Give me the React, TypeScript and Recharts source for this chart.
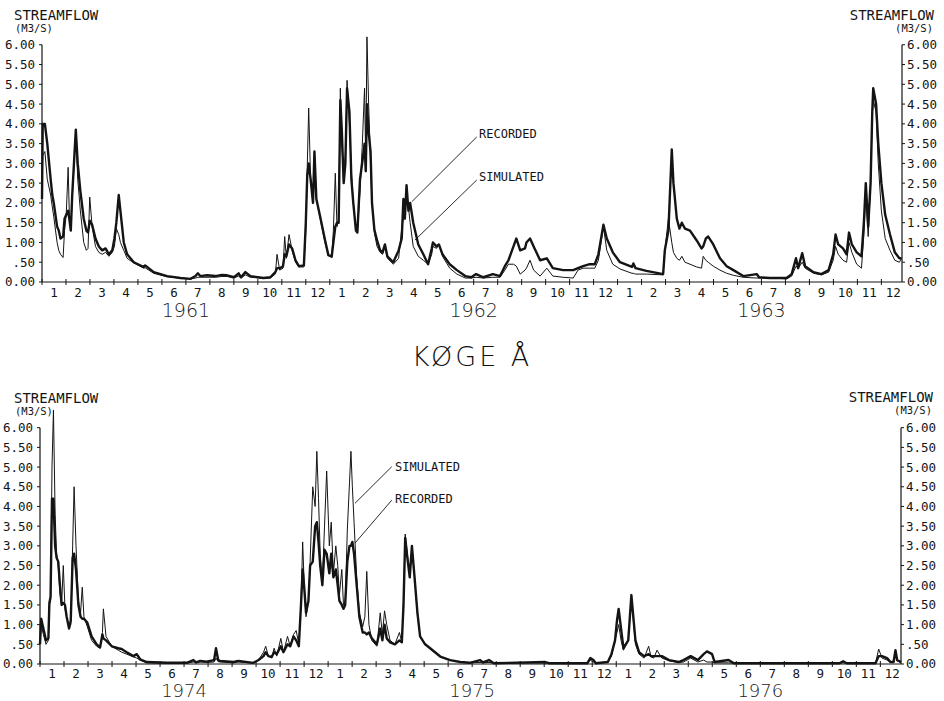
import { LineChart, Line, XAxis, YAxis, ReferenceLine } from "recharts";

// Køge Å streamflow, recorded vs simulated (m3/s). x = months from start of first year.
const topYears = ["1961", "1962", "1963"];
const topMonths = [
  0.0, 0.03, 0.12, 0.22, 0.36, 0.43, 0.49, 0.63, 0.7, 0.77,
  0.88, 0.94, 1.01, 1.09, 1.14, 1.2, 1.26, 1.36, 1.41, 1.49,
  1.6, 1.74, 1.85, 1.92, 1.99, 2.09, 2.23, 2.37, 2.51, 2.65,
  2.79, 2.93, 3.02, 3.1, 3.2, 3.27, 3.41, 3.55, 3.83, 4.24,
  4.3, 4.66, 5.22, 5.77, 6.19, 6.4, 6.5, 6.6, 6.88, 7.23,
  7.5, 7.72, 8.0, 8.2, 8.3, 8.48, 8.69, 9.24, 9.52, 9.73,
  9.8, 9.91, 10.05, 10.12, 10.19, 10.3, 10.43, 10.57, 10.71, 10.92,
  11.0, 11.06, 11.12, 11.2, 11.3, 11.36, 11.44, 11.6, 11.8, 11.94,
  12.08, 12.15, 12.23, 12.3, 12.37, 12.44, 12.5, 12.58, 12.65, 12.72,
  12.82, 12.9, 12.98, 13.09, 13.15, 13.26, 13.35, 13.45, 13.5, 13.55,
  13.62, 13.7, 13.76, 13.86, 13.97, 14.1, 14.2, 14.3, 14.4, 14.65,
  14.87, 15.0, 15.07, 15.13, 15.2, 15.28, 15.35, 15.48, 15.69, 15.9,
  16.1, 16.25, 16.3, 16.45, 16.55, 16.7, 17.0, 17.3, 17.65, 17.9,
  18.1, 18.4, 18.8, 19.1, 19.3, 19.45, 19.66, 19.78, 19.94, 20.14,
  20.2, 20.35, 20.5, 20.77, 21.05, 21.3, 21.73, 22.15, 22.35, 22.56,
  22.84, 23.05, 23.2, 23.41, 23.55, 23.8, 24.1, 24.6, 24.66, 24.75,
  25.2, 25.9, 25.97, 26.12, 26.26, 26.33, 26.47, 26.58, 26.68, 26.81,
  27.02, 27.3, 27.5, 27.57, 27.68, 27.78, 27.99, 28.27, 28.55, 28.83,
  29.24, 29.8, 29.9, 30.35, 31.05, 31.26, 31.44, 31.53, 31.7, 31.82,
  32.17, 32.5, 32.8, 32.99, 33.09, 33.2, 33.4, 33.55, 33.65, 33.77,
  33.97, 34.17, 34.27, 34.35, 34.45, 34.55, 34.62, 34.66, 34.78, 34.87,
  35.0, 35.16, 35.36, 35.56, 35.75, 35.84,
];
const topRecorded = [
  2.1, 4.0, 4.0, 3.5, 2.6, 2.2, 2.0, 1.4, 1.3, 1.1,
  1.15, 1.6, 1.7, 1.8, 1.6, 1.3, 2.2, 3.3, 3.85, 3.0,
  2.3, 1.6, 1.3, 1.25, 1.55, 1.45, 1.1, 0.9, 0.8, 0.85,
  0.7, 0.8, 1.1, 1.5, 2.2, 1.8, 1.0, 0.7, 0.5, 0.38,
  0.42, 0.25, 0.15, 0.1, 0.08, 0.15, 0.22, 0.15, 0.17, 0.15,
  0.18, 0.17, 0.12, 0.22, 0.12, 0.25, 0.15, 0.1, 0.12, 0.25,
  0.35, 0.35, 0.4, 0.7, 0.65, 0.95, 0.85, 0.55, 0.4, 0.42,
  1.5, 2.7, 3.0, 2.6, 2.0, 3.3, 2.1, 1.65, 1.06, 0.68,
  0.64, 1.0, 1.4, 1.5, 1.5, 4.6, 3.85, 2.5, 3.0, 4.9,
  4.3, 2.6, 2.0, 1.3, 1.25, 2.6, 3.0, 3.5, 2.8, 4.5,
  3.8, 3.3, 2.0, 1.32, 1.05, 0.8, 0.75, 0.95, 0.65, 0.5,
  0.8, 1.1, 2.1, 1.6, 2.45, 1.8, 2.0, 1.5, 0.95, 0.7,
  0.45, 0.85, 1.0, 0.9, 0.95, 0.7, 0.45, 0.3, 0.15, 0.12,
  0.2, 0.12, 0.2, 0.15, 0.4, 0.55, 0.9, 1.1, 0.8, 0.85,
  1.0, 1.1, 0.9, 0.55, 0.6, 0.35, 0.3, 0.3, 0.35, 0.4,
  0.45, 0.45, 0.7, 1.45, 1.1, 0.75, 0.5, 0.38, 0.47, 0.35,
  0.28, 0.2, 0.8, 1.3, 3.35, 2.5, 1.6, 1.35, 1.5, 1.35,
  1.3, 1.05, 0.85, 0.9, 1.1, 1.15, 0.95, 0.6, 0.4, 0.3,
  0.15, 0.2, 0.12, 0.1, 0.1, 0.2, 0.6, 0.35, 0.73, 0.4,
  0.25, 0.2, 0.3, 0.7, 1.2, 0.95, 0.85, 0.7, 1.25, 0.95,
  0.75, 0.65, 1.5, 2.5, 1.4, 2.5, 4.3, 4.9, 4.5, 3.5,
  2.5, 1.7, 1.2, 0.75, 0.6, 0.6,
];
const topSimulated = [
  2.3, 3.2, 3.3, 2.6, 2.2, 1.9, 1.65, 1.0, 0.8, 0.7,
  0.62, 1.3, 1.7, 2.9, 1.7, 1.3, 2.1, 3.2, 3.85, 2.6,
  1.8, 1.0, 0.8, 0.85, 2.15, 1.4, 0.9, 0.75, 0.7, 0.75,
  0.65, 0.75, 0.9, 1.35, 1.2, 1.0, 0.8, 0.6, 0.48, 0.35,
  0.36, 0.22, 0.13, 0.1, 0.08, 0.1, 0.12, 0.12, 0.12, 0.12,
  0.14, 0.14, 0.1, 0.15, 0.1, 0.18, 0.12, 0.09, 0.1, 0.2,
  0.7, 0.3, 0.35, 1.15, 0.6, 1.2, 0.8, 0.5, 0.38, 0.38,
  1.3, 2.9, 4.4, 2.6, 2.0, 3.3, 2.1, 1.6, 1.0, 0.68,
  0.64, 1.3, 2.75, 1.4, 1.6, 4.9, 3.5, 2.6, 3.2, 5.1,
  4.0, 2.8, 2.0, 1.3, 1.25, 2.3, 3.4, 4.9, 3.0, 6.2,
  4.5, 3.0, 2.0, 1.25, 0.9, 0.75, 0.7, 0.9, 0.6, 0.45,
  0.6, 1.35, 1.6, 2.0, 2.0, 1.9, 1.5, 0.9, 0.65, 0.55,
  0.45, 0.7, 0.9, 0.85, 0.95, 0.65, 0.35, 0.2, 0.1, 0.1,
  0.12, 0.1, 0.12, 0.12, 0.3, 0.45, 0.45, 0.4, 0.2, 0.3,
  0.35, 0.55, 0.3, 0.15, 0.35, 0.15, 0.12, 0.1, 0.3, 0.35,
  0.35, 0.35, 0.55, 1.4, 0.8, 0.45, 0.33, 0.22, 0.22, 0.2,
  0.2, 0.18, 0.8, 1.6, 1.0, 0.75, 0.6, 0.55, 0.65, 0.5,
  0.45, 0.38, 0.35, 0.65, 0.55, 0.5, 0.4, 0.3, 0.22, 0.17,
  0.12, 0.1, 0.1, 0.1, 0.08, 0.15, 0.4, 0.35, 0.5, 0.35,
  0.22, 0.18, 0.25, 0.55, 0.9, 0.7, 0.55, 0.5, 1.0, 0.75,
  0.45, 0.35, 1.2, 2.3, 1.15, 2.5, 4.2, 4.6, 4.3, 3.0,
  1.8, 1.1, 0.8, 0.55, 0.5, 0.6,
];

const bottomYears = ["1974", "1975", "1976"];
const bottomMonths = [
  0.0, 0.05, 0.14, 0.25, 0.35, 0.39, 0.44, 0.5, 0.56, 0.63,
  0.69, 0.76, 0.83, 0.9, 0.97, 1.04, 1.11, 1.21, 1.28, 1.36,
  1.42, 1.5, 1.6, 1.69, 1.76, 1.83, 1.97, 2.15, 2.36, 2.5,
  2.6, 2.64, 2.75, 2.99, 3.26, 3.4, 3.61, 3.89, 4.03, 4.17,
  4.44, 5.28, 6.11, 6.39, 6.5, 6.67, 6.94, 7.25, 7.33, 7.42,
  7.5, 8.06, 8.26, 8.89, 9.1, 9.31, 9.4, 9.51, 9.65, 9.75,
  9.86, 10.03, 10.14, 10.31, 10.42, 10.56, 10.67, 10.78, 10.87, 10.94,
  11.01, 11.08, 11.18, 11.25, 11.36, 11.46, 11.53, 11.6, 11.67, 11.76,
  11.85, 11.94, 12.05, 12.13, 12.22, 12.32, 12.4, 12.47, 12.57, 12.64,
  12.71, 12.8, 12.89, 12.95, 13.01, 13.08, 13.19, 13.3, 13.44, 13.53,
  13.61, 13.7, 13.82, 14.03, 14.17, 14.26, 14.35, 14.44, 14.58, 14.78,
  14.97, 15.07, 15.14, 15.21, 15.3, 15.4, 15.49, 15.6, 15.72, 15.83,
  16.04, 16.25, 16.67, 17.08, 17.5, 17.9, 18.33, 18.45, 18.7, 18.9,
  21.04, 21.2, 22.8, 22.92, 23.05, 23.15, 23.65, 23.8, 23.95, 24.03,
  24.1, 24.2, 24.3, 24.5, 24.63, 24.8, 24.95, 25.16, 25.35, 25.45,
  25.56, 25.7, 25.9, 26.2, 26.6, 26.8, 26.95, 27.1, 27.4, 27.64,
  27.78, 27.99, 28.1, 28.68, 28.9, 33.3, 33.45, 33.6, 34.8, 34.93,
  35.07, 35.28, 35.42, 35.55, 35.63, 35.7, 35.86,
];
const bottomRecorded = [
  0.5, 1.15, 0.9, 0.6, 0.65, 1.55, 1.7, 4.2, 4.2, 3.0,
  2.7, 2.6, 2.0, 1.5, 1.55, 1.5, 1.2, 0.9, 1.1, 2.7,
  2.8, 2.4, 1.5, 1.2, 1.15, 1.15, 1.05, 0.7, 0.5, 0.42,
  0.75, 0.65, 0.6, 0.45, 0.4, 0.38, 0.3, 0.2, 0.25, 0.12,
  0.05, 0.03, 0.03, 0.1, 0.04, 0.08, 0.06, 0.1, 0.4, 0.1,
  0.08, 0.05, 0.08, 0.03, 0.1, 0.2, 0.3, 0.2, 0.18, 0.3,
  0.25, 0.45, 0.3, 0.5, 0.45, 0.7, 0.6, 0.45, 1.5, 2.4,
  1.9, 1.3, 1.6, 2.5, 2.6, 3.5, 3.6, 3.1, 2.5, 2.0,
  2.9, 2.8, 2.3, 2.8, 2.2, 2.4, 2.0, 1.6, 1.5, 1.4,
  1.5, 2.6, 3.0, 3.0, 3.1, 2.8, 2.0, 1.2, 0.8, 0.8,
  0.75, 0.8, 0.65, 0.5, 0.9, 0.6, 1.0, 0.65, 0.55, 0.5,
  0.6, 0.55, 1.5, 3.2, 2.7, 2.2, 3.0, 2.2, 1.3, 0.7,
  0.5, 0.4, 0.19, 0.1, 0.05, 0.03, 0.1, 0.04, 0.1, 0.02,
  0.05, 0.02, 0.02, 0.15, 0.1, 0.02, 0.05, 0.25, 0.6, 1.1,
  1.4, 0.9, 0.4, 0.6, 1.75, 0.6, 0.3, 0.2, 0.25, 0.2,
  0.2, 0.2, 0.2, 0.1, 0.05, 0.1, 0.15, 0.2, 0.1, 0.25,
  0.32, 0.25, 0.05, 0.1, 0.02, 0.02, 0.07, 0.02, 0.02, 0.2,
  0.2, 0.15, 0.05, 0.05, 0.35, 0.1, 0.05,
];
const bottomSimulated = [
  0.5, 1.0, 0.75, 0.5, 0.6, 1.5, 1.6, 5.0, 6.45, 3.8,
  2.8, 2.5, 1.8, 1.5, 2.5, 1.4, 1.2, 0.9, 1.0, 3.0,
  4.5, 3.0, 1.6, 1.3, 1.95, 1.2, 0.95, 0.6, 0.45, 0.4,
  0.8, 1.4, 0.7, 0.45, 0.35, 0.3, 0.25, 0.18, 0.15, 0.1,
  0.03, 0.02, 0.02, 0.05, 0.03, 0.05, 0.04, 0.05, 0.15, 0.06,
  0.05, 0.03, 0.05, 0.02, 0.1, 0.3, 0.45, 0.2, 0.15, 0.4,
  0.2, 0.65, 0.3, 0.7, 0.45, 0.75, 0.85, 0.5, 1.5, 3.1,
  1.9, 1.2, 1.6, 2.6, 4.5, 4.0, 5.4, 4.2, 2.8, 2.05,
  3.5, 4.9, 3.0, 3.6, 2.3, 3.0, 2.5, 1.75, 2.4, 1.5,
  1.5, 3.4, 4.6, 5.4, 4.5, 3.6, 2.2, 1.3, 0.95, 1.2,
  2.35, 1.0, 0.6, 0.45, 1.3, 0.75, 1.35, 1.0, 0.6, 0.5,
  0.8, 0.55, 1.6, 3.3, 2.8, 2.2, 3.0, 2.2, 1.25, 0.7,
  0.5, 0.38, 0.18, 0.1, 0.05, 0.03, 0.04, 0.03, 0.04, 0.02,
  0.03, 0.02, 0.02, 0.1, 0.05, 0.02, 0.05, 0.2, 0.6, 0.8,
  1.0, 0.6, 0.35, 0.6, 1.7, 0.5, 0.25, 0.15, 0.45, 0.18,
  0.15, 0.35, 0.15, 0.08, 0.04, 0.05, 0.1, 0.15, 0.05, 0.1,
  0.05, 0.05, 0.03, 0.03, 0.02, 0.02, 0.03, 0.02, 0.02, 0.38,
  0.15, 0.1, 0.04, 0.04, 0.3, 0.08, 0.03,
];

const yTicks = [0, 0.5, 1, 1.5, 2, 2.5, 3, 3.5, 4, 4.5, 5, 5.5, 6];
const X_MAX = 35.86;
const monthTicks = Array.from({ length: 72 }, (_, i) => i / 2);

const toRows = (ms: number[], rec: number[], sim: number[]) =>
  ms.map((m, i) => ({ m, recorded: rec[i], simulated: sim[i] }));

const fmtY = (v: number) => (v === 0 ? "0.00" : v === 0.5 ? ".50" : v.toFixed(2));

const INK = "#141414";
const MONO = "'DejaVu Sans Mono', monospace";

const makeMonthTick = (years: string[], monthDy: number, yearDy: number, yearSize: number) => (props: any) => {
  const { x, y, payload } = props;
  const v = payload.value as number;
  if (Number.isInteger(v)) {
    const year = v % 12 === 6 ? years[Math.floor(v / 12)] : null;
    return (
      <g>
        <line x1={x} x2={x} y1={y - 3} y2={y + 3} stroke={INK} strokeWidth={1} />
        {year && (
          <text x={x} y={y + yearDy} textAnchor="middle" fontSize={yearSize} fontFamily="'DejaVu Sans', sans-serif" fontWeight={300} fill="#1a1a1a">
            {year}
          </text>
        )}
      </g>
    );
  }
  return (
    <text x={x} y={y + monthDy} textAnchor="middle" fontSize={12.5} fontFamily={MONO} fill={INK}>
      {(Math.floor(v) % 12) + 1}
    </text>
  );
};

type Seg = [{ x: number; y: number }, { x: number; y: number }];

function Panel(props: {
  rows: any[];
  years: string[];
  monthDy: number;
  yearDy: number;
  yearSize: number;
  top: number;
  height: number;
  marginTop: number;
  marginLeft: number;
  rightWidth: number;
  xHeight: number;
  leaders: Seg[];
}) {
  const { rows, years, monthDy, yearDy, yearSize, top, height, marginTop, marginLeft, rightWidth, xHeight, leaders } = props;
  return (
    <div style={{ position: "absolute", left: 0, top }}>
      <LineChart width={944} height={height} data={rows} margin={{ top: marginTop, right: 0, left: marginLeft, bottom: 0 }}>
        <XAxis
          dataKey="m"
          type="number"
          domain={[0, X_MAX]}
          ticks={monthTicks}
          interval={0}
          tick={makeMonthTick(years, monthDy, yearDy, yearSize)}
          tickLine={false}
          tickSize={0}
          tickMargin={0}
          height={xHeight}
          axisLine={{ stroke: INK, strokeWidth: 1.2 }}
        />
        <YAxis
          yAxisId="left"
          orientation="left"
          width={34}
          domain={[0, 6.5]}
          ticks={yTicks}
          interval={0}
          tickFormatter={fmtY}
          tickSize={3}
          tickMargin={4}
          axisLine={false}
          tickLine={{ stroke: INK }}
          tick={{ fontSize: 12.5, fontFamily: MONO, fill: INK }}
        />
        <YAxis
          yAxisId="right"
          orientation="right"
          width={rightWidth}
          domain={[0, 6.5]}
          ticks={yTicks}
          interval={0}
          tickFormatter={fmtY}
          tickSize={3}
          tickMargin={2}
          axisLine={false}
          tickLine={{ stroke: INK }}
          tick={{ fontSize: 12.5, fontFamily: MONO, fill: INK, textAnchor: "start" }}
        />
        <ReferenceLine yAxisId="left" segment={[{ x: 0, y: 0 }, { x: 0, y: 6 }]} stroke={INK} strokeWidth={1.2} ifOverflow="visible" />
        <ReferenceLine yAxisId="left" segment={[{ x: X_MAX, y: 0 }, { x: X_MAX, y: 6 }]} stroke={INK} strokeWidth={1.2} ifOverflow="visible" />
        {leaders.map((s, i) => (
          <ReferenceLine key={i} yAxisId="left" segment={s} stroke={INK} strokeWidth={0.9} ifOverflow="visible" />
        ))}
        <Line yAxisId="right" type="linear" dataKey="simulated" stroke={INK} strokeWidth={1} dot={false} isAnimationActive={false} strokeLinejoin="round" />
        <Line yAxisId="left" type="linear" dataKey="recorded" stroke={INK} strokeWidth={2.4} dot={false} isAnimationActive={false} strokeLinejoin="round" />
      </LineChart>
    </div>
  );
}

const topLeaders: Seg[] = [
  [{ x: 18.13, y: 3.67 }, { x: 15.42, y: 2.03 }],
  [{ x: 18.13, y: 2.58 }, { x: 15.55, y: 1.06 }],
];
const bottomLeaders: Seg[] = [
  [{ x: 14.65, y: 5.01 }, { x: 13.12, y: 4.08 }],
  [{ x: 14.65, y: 4.16 }, { x: 13.12, y: 3.07 }],
];

const txt = (x: number, y: number, s: string, size: number, anchor: "start" | "end" | "middle" = "start") => (
  <text x={x} y={y} fontSize={size} fontFamily={MONO} fill={INK} textAnchor={anchor}>
    {s}
  </text>
);

export default function App() {
  return (
    <div style={{ position: "absolute", left: 0, top: 0, width: 944, height: 701, background: "#fff", overflow: "hidden" }}>
      <Panel
        rows={toRows(topMonths, topRecorded, topSimulated)}
        years={topYears}
        monthDy={15}
        yearDy={35}
        yearSize={19}
        top={0}
        height={322}
        marginTop={25}
        marginLeft={8}
        rightWidth={42}
        xHeight={40}
        leaders={topLeaders}
      />
      <Panel
        rows={toRows(bottomMonths, bottomRecorded, bottomSimulated)}
        years={bottomYears}
        monthDy={13.5}
        yearDy={32.5}
        yearSize={18}
        top={380}
        height={321}
        marginTop={28}
        marginLeft={6}
        rightWidth={43}
        xHeight={37}
        leaders={bottomLeaders}
      />
      <svg width={944} height={701} style={{ position: "absolute", left: 0, top: 0, pointerEvents: "none" }}>
        {txt(14, 20, "STREAMFLOW", 14)}
        {txt(15, 32, "(M3/S)", 10.5)}
        {txt(934, 20, "STREAMFLOW", 14, "end")}
        {txt(933, 32, "(M3/S)", 10.5, "end")}
        {txt(14, 403, "STREAMFLOW", 14)}
        {txt(15, 415, "(M3/S)", 10.5)}
        {txt(933, 402, "STREAMFLOW", 14, "end")}
        {txt(932, 414, "(M3/S)", 10.5, "end")}
        {txt(479, 138, "RECORDED", 12)}
        {txt(479, 181, "SIMULATED", 12)}
        {txt(395, 471, "SIMULATED", 12)}
        {txt(395, 503, "RECORDED", 12)}
        <text x={472} y={366} textAnchor="middle" fontSize={27} fontFamily="'DejaVu Sans', sans-serif" fontWeight={300} letterSpacing={3} fill="#111">
          KØGE Å
        </text>
      </svg>
    </div>
  );
}
